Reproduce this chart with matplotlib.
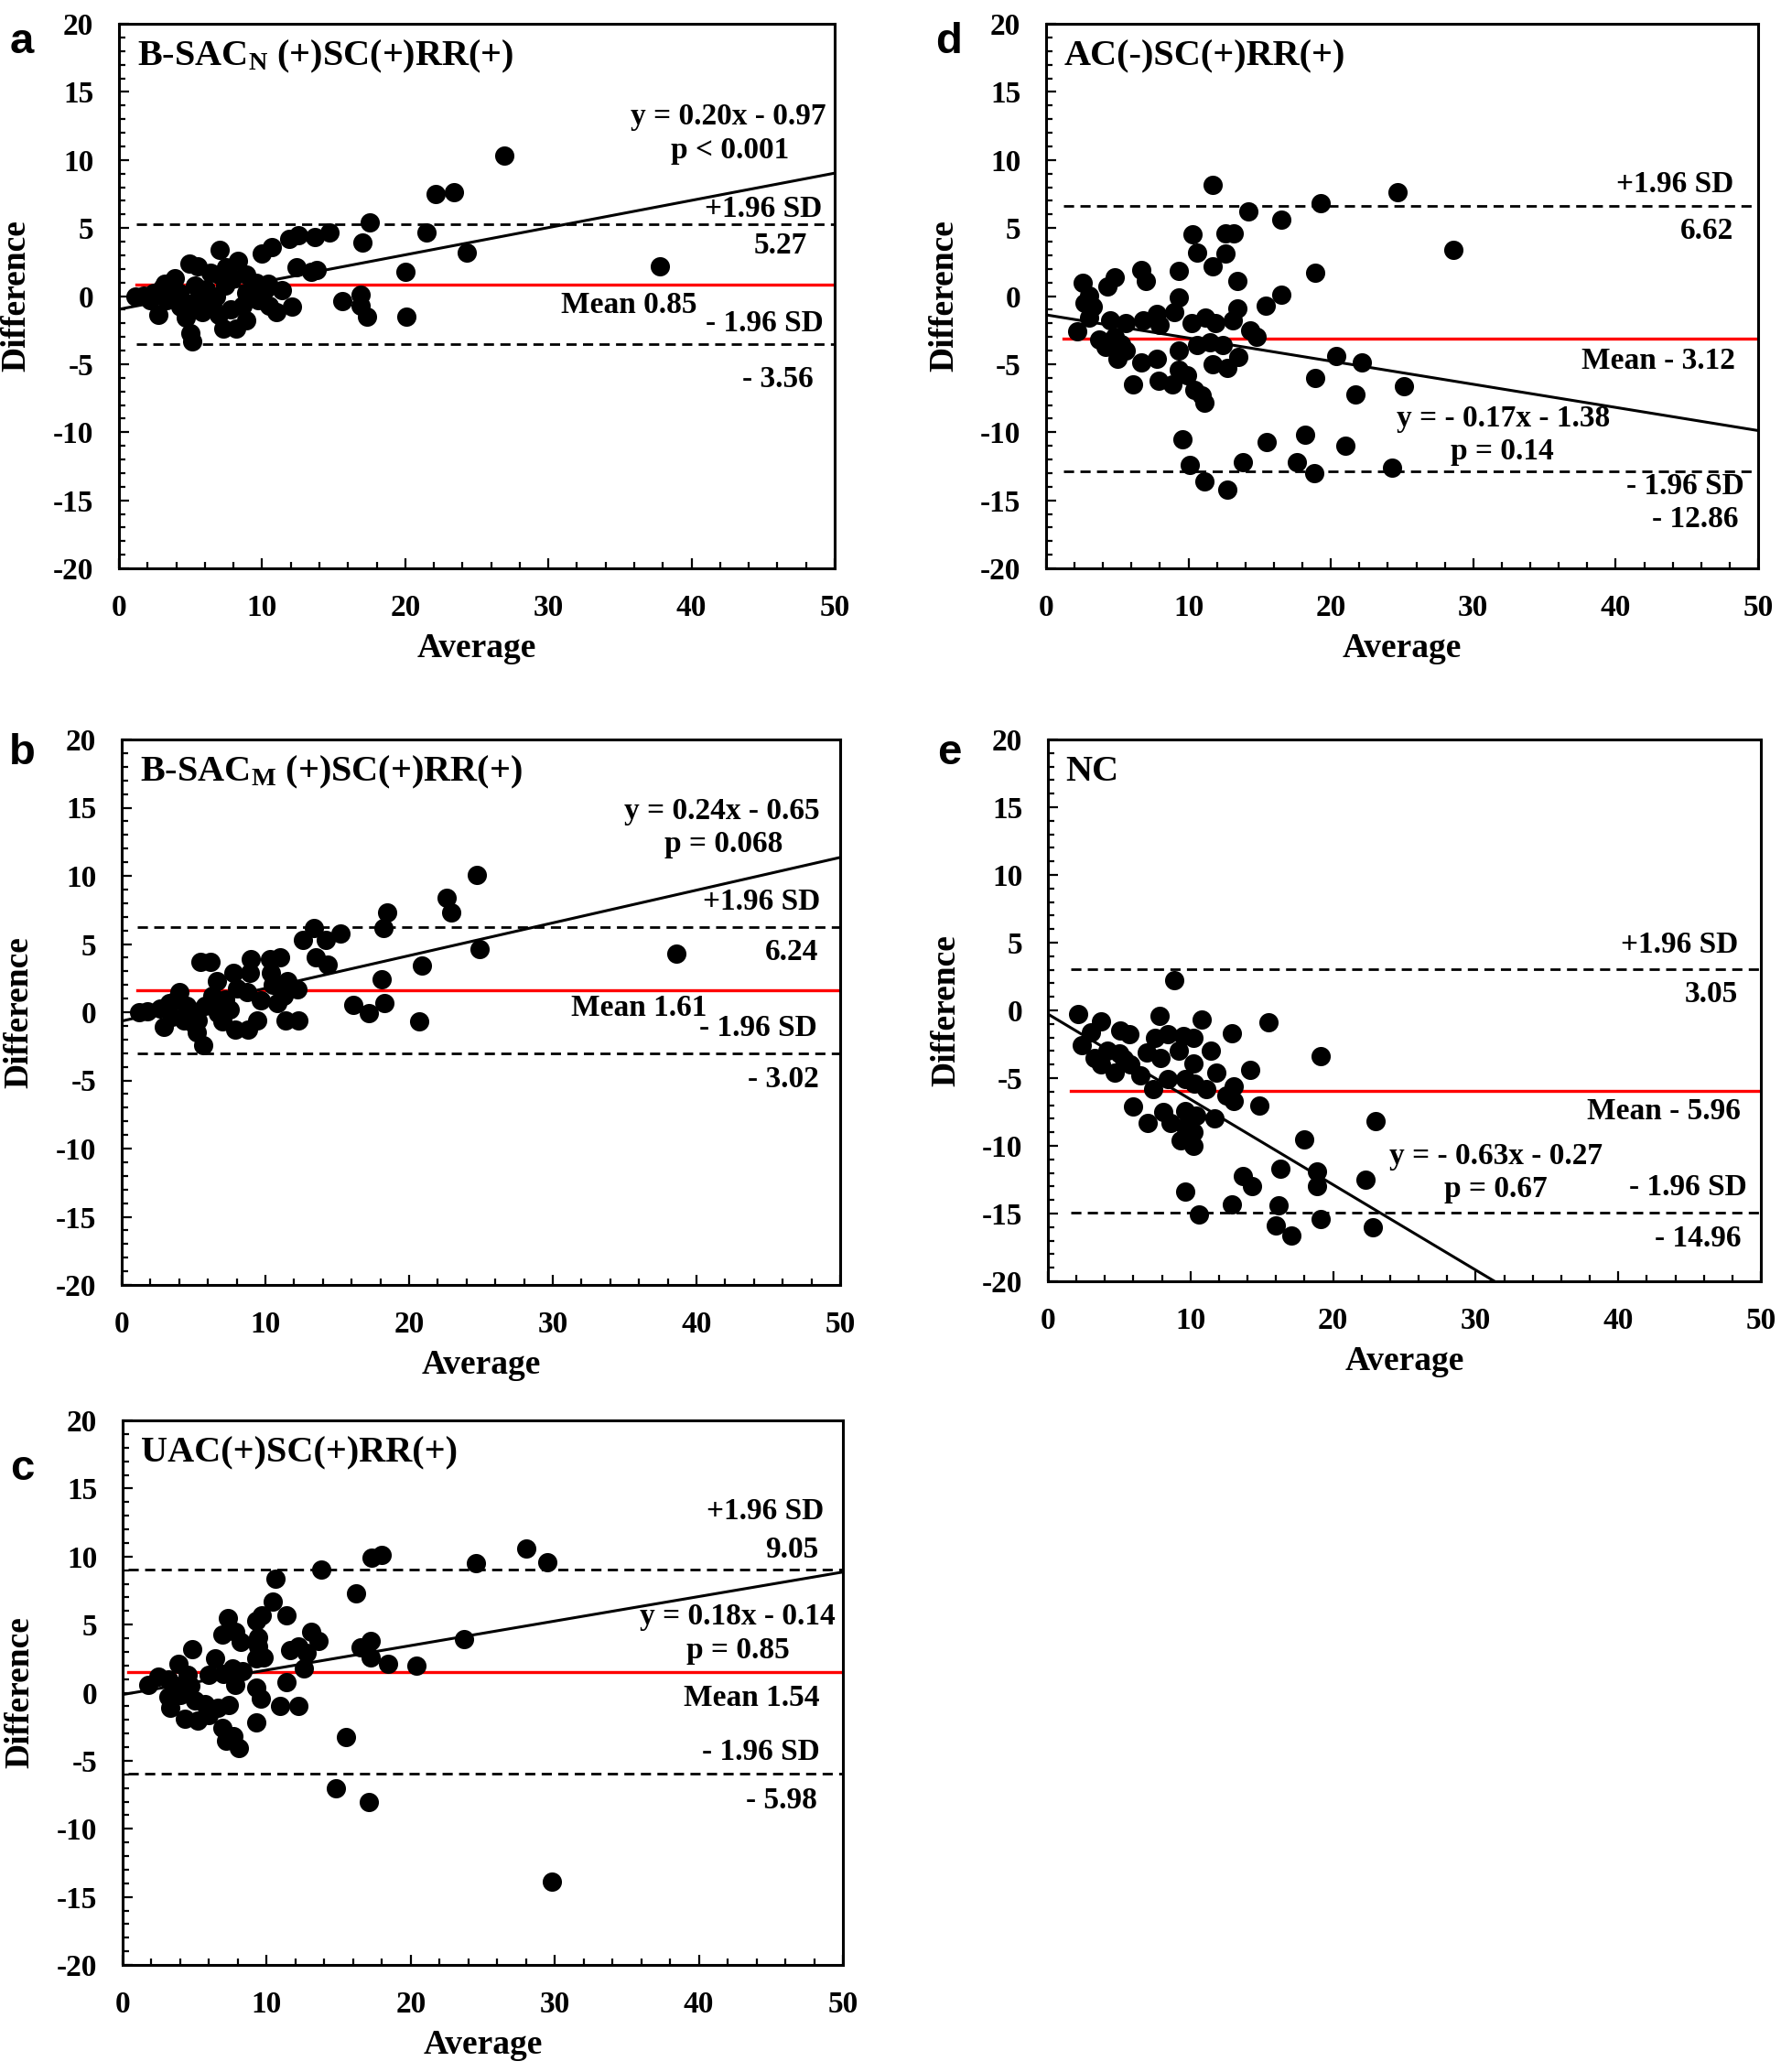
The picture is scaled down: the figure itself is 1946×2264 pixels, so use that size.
import matplotlib
matplotlib.use("Agg")
import matplotlib.pyplot as plt
from matplotlib.ticker import MultipleLocator

plt.rcParams['font.family'] = ['Liberation Serif', 'DejaVu Serif']
plt.rcParams['font.weight'] = 'bold'
plt.rcParams['mathtext.default'] = 'regular'
plt.rcParams['axes.unicode_minus'] = False

# ---------------- DATA ----------------
# panel a : B-SAC_N (+)SC(+)RR(+)
a_avg = [26.9, 22.1, 23.4, 17.5, 17.0, 21.5, 24.3, 37.8, 20.0, 20.1, 15.6, 16.9, 16.9, 17.3,
         14.7, 13.7, 12.5, 11.9, 10.7, 10.0, 7.05, 12.4, 13.4, 13.8, 12.1, 11.0, 4.9, 5.5,
         6.4, 7.5, 8.3, 8.9, 9.6, 10.2, 11.4, 10.4, 3.9, 3.2, 2.4, 1.15, 1.7, 2.75, 4.65,
         5.0, 5.1, 7.3, 8.2, 8.9, 8.6, 7.8, 6.95, 6.5, 5.6, 4.3, 3.3, 5.3, 6.1, 7.4, 8.9,
         9.7, 10.5, 6.95, 7.9, 4.2, 5.1, 5.8, 6.8, 2.2, 3.7, 3.0]
a_diff = [10.3, 7.5, 7.6, 5.4, 3.95, 4.7, 3.2, 2.2, 1.8, -1.5, -0.4, 0.1, -0.7, -1.5,
          4.7, 4.35, 4.5, 4.2, 3.6, 3.1, 3.4, 2.1, 1.8, 1.9, -0.75, -1.2, 2.4, 2.2,
          1.7, 2.1, 2.6, 1.6, 1.0, 0.5, 0.45, 0.9, 1.3, 0.9, 0.24, -0.03, 0.03, -1.4, -1.6,
          -2.7, -3.3, -2.4, -2.4, -1.8, -0.7, -1.0, -1.35, -0.6, 0.0, -0.8, -0.3, 0.8, 0.5, 0.8, 0.24,
          -0.3, -0.7, 1.6, 1.3, 0.24, -0.56, -1.2, 0.0, -0.3, 0.0, 0.6]

# panel b : B-SAC_M (+)SC(+)RR(+)
b_avg = [24.7, 22.6, 22.9, 18.5, 18.2, 13.4, 15.2, 14.2, 12.6, 24.9, 38.6, 13.5, 14.3, 20.9,
         5.5, 6.2, 9.0, 10.3, 11.0, 7.8, 8.9, 10.4, 18.1, 6.6, 11.5, 12.2, 4.0, 8.0, 16.1,
         17.2, 18.3, 20.7, 12.3, 11.4, 9.4, 8.8, 7.9, 7.0, 2.9, 5.2, 5.7, 1.2, 1.8, 2.7,
         3.3, 3.8, 4.5, 4.8, 5.3, 5.8, 6.3, 7.2, 7.5, 8.7, 9.7, 10.8, 10.5, 11.3, 3.5,
         4.3, 6.7, 5.0]
b_diff = [10.1, 8.4, 7.3, 7.3, 6.2, 6.2, 5.8, 5.3, 5.3, 4.6, 4.3, 4.0, 3.5, 3.4,
          3.7, 3.7, 3.9, 3.9, 4.0, 2.9, 2.9, 2.9, 2.4, 2.3, 2.3, 1.7, 1.5, 1.76, 0.52,
          -0.08, 0.66, -0.68, -0.6, -0.6, -0.6, -1.26, -1.26, -0.7, -1.05, -1.5, -2.4, 0.0, 0.05, 0.3,
          0.7, 0.97, 0.45, -0.08, -0.6, 0.45, 1.2, 0.97, 0.18, 1.5, 0.84, 0.7, 2.0, 1.2, -0.34,
          -0.6, -0.08, -0.87]

# panel c : UAC(+)SC(+)RR(+)
c_avg = [28.0, 29.5, 24.5, 18.0, 17.3, 13.8, 10.6, 16.2, 10.4, 9.65, 9.25, 11.4, 7.3, 6.9,
         7.8, 8.2, 9.4, 9.4, 13.1, 13.6, 11.6, 12.2, 12.8, 16.5, 17.2, 17.2, 23.7, 18.4,
         20.4, 4.8, 3.9, 6.4, 7.65, 9.3, 9.8, 12.6, 6.0, 7.0, 8.3, 1.8, 2.5, 3.2, 3.7,
         4.5, 4.7, 7.8, 11.4, 9.3, 9.6, 3.2, 3.3, 4.0, 5.0, 5.7, 4.3, 5.2, 6.0, 6.6,
         7.4, 10.9, 12.2, 9.3, 6.9, 7.2, 7.7, 8.05, 15.5, 14.8, 17.1, 29.8]
c_diff = [10.6, 9.55, 9.5, 10.1, 9.9, 9.07, 8.4, 7.3, 6.7, 5.7, 5.3, 5.7, 5.5, 4.3,
          4.5, 3.7, 4.1, 3.4, 4.5, 3.8, 3.1, 3.4, 2.9, 3.3, 3.8, 2.6, 3.9, 2.1,
          2.0, 3.2, 2.1, 2.5, 1.8, 2.5, 2.6, 1.8, 1.3, 1.4, 1.55, 0.6, 1.15, 1.0, 0.48,
          1.3, 0.48, 0.6, 0.8, 0.35, -0.45, -0.3, -1.1, -0.2, -0.6, -0.85, -1.9, -2.05, -1.65, -1.1,
          -0.9, -1.0, -1.0, -2.2, -2.6, -3.5, -3.2, -4.1, -3.25, -7.0, -8.0, -13.9]

# panel d : AC(-)SC(+)RR(+)
d_avg = [11.7, 24.7, 19.3, 14.2, 16.5, 28.6, 10.3, 12.6, 13.2, 10.6, 12.6, 11.7, 9.3, 6.7,
         7.0, 4.3, 4.8, 2.6, 3.0, 3.3, 13.4, 18.9, 16.5, 15.4, 9.3, 9.0, 7.8, 13.4, 13.1,
         11.2, 10.2, 11.9, 14.3, 14.8, 2.2, 4.5, 5.6, 6.8, 8.0, 3.7, 4.2, 5.0, 5.6, 6.1,
         6.7, 7.8, 7.9, 8.9, 9.3, 9.3, 9.9, 10.4, 10.9, 11.1, 10.6, 11.5, 12.4, 11.7, 12.7,
         13.5, 20.4, 22.2, 18.9, 21.7, 25.1, 9.6, 15.5, 18.2, 21.0, 10.1, 13.8, 17.6, 18.8,
         24.3, 11.1, 12.7, 4.8, 5.3, 2.7, 3.0]
d_diff = [8.16, 7.6, 6.8, 6.24, 5.6, 3.4, 4.56, 4.6, 4.6, 3.2, 3.1, 2.2, 1.84, 1.9,
          1.1, 0.7, 1.4, 0.96, 0.03, -0.77, 1.1, 1.7, 0.08, -0.7, -0.1, -1.2, -1.3, -0.9, -1.8,
          -1.6, -2.0, -2.0, -2.5, -3.0, -2.6, -1.8, -2.0, -1.8, -2.1, -3.2, -3.7, -4.6, -4.0, -6.5,
          -4.9, -4.6, -6.2, -6.5, -4.0, -5.4, -5.8, -6.9, -7.3, -7.8, -3.6, -3.4, -3.6, -5.0, -5.3,
          -4.5, -4.4, -4.9, -6.0, -7.2, -6.6, -10.5, -10.7, -10.2, -11.0, -12.4, -12.2, -12.2, -13.0,
          -12.6, -13.6, -14.2, -2.96, -3.5, -0.5, -1.6]

# panel e : NC
e_avg = [8.85, 2.1, 3.7, 7.8, 10.8, 15.5, 12.9, 5.1, 5.7, 7.5, 8.4, 9.5, 10.2, 11.4,
         19.1, 2.4, 3.0, 4.2, 5.0, 6.9, 7.9, 9.2, 10.2, 11.8, 14.2, 3.7, 4.7, 5.8, 6.5,
         7.4, 8.4, 9.6, 10.3, 11.1, 13.0, 12.5, 13.0, 14.8, 6.0, 7.0, 8.1, 8.6, 9.6, 10.4,
         11.7, 9.6, 10.2, 9.3, 10.2, 23.0, 18.0, 16.3, 18.9, 18.9, 22.3, 13.7, 14.3, 9.6,
         12.9, 16.2, 10.6, 19.1, 16.0, 17.1, 22.8, 3.3, 5.3]
e_diff = [2.24, -0.3, -0.8, -0.43, -0.7, -0.9, -1.7, -1.5, -1.76, -2.0, -1.76, -1.9, -2.0, -2.96,
          -3.4, -2.56, -1.6, -2.96, -3.2, -3.1, -3.5, -2.96, -3.9, -4.6, -4.4, -4.0, -4.6, -4.0, -4.8,
          -5.8, -5.1, -5.1, -5.4, -5.8, -5.6, -6.3, -6.7, -7.0, -7.1, -8.3, -7.5, -8.3, -7.4, -7.8,
          -8.0, -8.6, -9.0, -9.6, -10.0, -8.2, -9.5, -11.7, -11.9, -13.0, -12.5, -12.2, -13.0, -13.4,
          -14.3, -14.4, -15.1, -15.4, -15.9, -16.6, -16.0, -3.5, -3.6]

# reported statistics: mean, upper LoA, lower LoA, slope, intercept
panel_names = ['a', 'b', 'c', 'd', 'e']
titles = [r'B-SAC$_\mathregular{N}$ (+)SC(+)RR(+)', r'B-SAC$_\mathregular{M}$ (+)SC(+)RR(+)',
          'UAC(+)SC(+)RR(+)', 'AC(-)SC(+)RR(+)', 'NC']
means = [0.85, 1.61, 1.54, -3.12, -5.96]
upper = [5.27, 6.24, 9.05, 6.62, 3.05]
lower = [-3.56, -3.02, -5.98, -12.86, -14.96]
slopes = [0.20, 0.24, 0.18, -0.17, -0.63]
intercepts = [-0.97, -0.65, -0.14, -1.38, -0.27]
eq_labels = ['y = 0.20x - 0.97', 'y = 0.24x - 0.65', 'y = 0.18x - 0.14',
             'y = - 0.17x - 1.38', 'y = - 0.63x - 0.27']
p_labels = ['p < 0.001', 'p = 0.068', 'p = 0.85', 'p = 0.14', 'p = 0.67']
mean_labels = ['Mean 0.85', 'Mean 1.61', 'Mean 1.54', 'Mean - 3.12', 'Mean - 5.96']
upper_labels = ['5.27', '6.24', '9.05', '6.62', '3.05']
lower_labels = ['- 3.56', '- 3.02', '- 5.98', '- 12.86', '- 14.96']
line_start = [1.2, 1.1, 0.4, 1.2, 1.6]

avgs = [a_avg, b_avg, c_avg, d_avg, e_avg]
diffs = [a_diff, b_diff, c_diff, d_diff, e_diff]

# ---------------- LAYOUT ----------------
W, H = 1946, 2264
boxes = {  # left, top, right, bottom in pixels
    'a': (130, 26, 912, 621),
    'b': (133, 808, 918, 1404),
    'c': (134, 1552, 921, 2147),
    'd': (1143, 26, 1921, 621),
    'e': (1145, 808, 1924, 1400),
}
letter_pos = {'a': (24, 46), 'b': (24, 823), 'c': (24, 1605), 'd': (1037, 46), 'e': (1037, 823)}

# text anchors (x, y in data units) for each panel:
# eq, p, +SD, upper value, mean, -SD, lower value
txt = {
    'a': dict(eq=(49.4, 13.2, 'right'), p=(46.8, 10.7, 'right'), sdu=(49.1, 6.4), vu=(48.1, 3.7),
              mean=(40.4, -0.7), sdl=(49.2, -2.0), vl=(48.5, -6.1)),
    'b': dict(eq=(48.6, 14.7, 'right'), p=(46.0, 12.3, 'right'), sdu=(48.6, 8.1), vu=(48.5, 4.4),
              mean=(40.7, 0.3), sdl=(48.4, -1.2), vl=(48.5, -4.9)),
    'c': dict(eq=(49.5, 5.6, 'right'), p=(46.3, 3.1, 'right'), sdu=(48.7, 13.3), vu=(48.3, 10.5),
              mean=(48.4, -0.4), sdl=(48.4, -4.4), vl=(48.2, -7.9)),
    'd': dict(eq=(32.1, -9.0, 'center'), p=(32.0, -11.45, 'center'), sdu=(48.3, 8.2), vu=(48.3, 4.75),
              mean=(48.4, -4.75), sdl=(49.0, -14.0), vl=(48.6, -16.4)),
    'e': dict(eq=(31.4, -10.8, 'center'), p=(31.4, -13.2, 'center'), sdu=(48.4, 4.85), vu=(48.4, 1.2),
              mean=(48.6, -7.5), sdl=(49.0, -13.1), vl=(48.6, -16.85)),
}

fig = plt.figure(figsize=(W / 100, H / 100), dpi=100)
fs = 24

for i, name in enumerate(panel_names):
    l, t, r, b = boxes[name]
    ax = fig.add_axes([l / W, 1 - b / H, (r - l) / W, (b - t) / H])

    ax.scatter(avgs[i], diffs[i], s=230, color='black', zorder=3, linewidths=0)

    xs = [0, 50]
    ax.plot(xs, [slopes[i] * x + intercepts[i] for x in xs], color='black', lw=2.2, zorder=4)
    ax.plot([line_start[i], 50], [means[i], means[i]], color='red', lw=2.4, zorder=2)
    for v in (upper[i], lower[i]):
        ax.plot([line_start[i], 50], [v, v], color='black', lw=2.0, ls=(0, (4, 2.5)), zorder=2)

    ax.set_xlim(0, 50)
    ax.set_ylim(-20, 20)
    ax.xaxis.set_major_locator(MultipleLocator(10))
    ax.xaxis.set_minor_locator(MultipleLocator(2))
    ax.yaxis.set_major_locator(MultipleLocator(5))
    ax.yaxis.set_minor_locator(MultipleLocator(1))
    ax.tick_params(which='both', direction='in', width=1.6, labelsize=fs)
    ax.tick_params(which='major', length=8)
    ax.tick_params(which='minor', length=5)
    ax.tick_params(axis='x', which='major', pad=20)
    ax.tick_params(axis='y', which='major', pad=20)
    for sp in ax.spines.values():
        sp.set_linewidth(2.2)
    ax.set_xlabel('Average', fontsize=27, fontweight='bold', va='center')
    ax.set_ylabel('Difference', fontsize=27, fontweight='bold', va='center')
    ax.xaxis.set_label_coords(0.5, -0.147)
    ax.yaxis.set_label_coords(-0.143, 0.5)

    ax.text(0.025, 0.94, titles[i], transform=ax.transAxes, fontsize=29, fontweight='bold',
            va='center', ha='left')

    p = txt[name]
    ax.text(p['eq'][0], p['eq'][1], eq_labels[i], fontsize=fs, ha=p['eq'][2], va='center')
    ax.text(p['p'][0], p['p'][1], p_labels[i], fontsize=fs, ha=p['p'][2], va='center')
    ax.text(p['sdu'][0], p['sdu'][1], '+1.96 SD', fontsize=fs, ha='right', va='center')
    ax.text(p['vu'][0], p['vu'][1], upper_labels[i], fontsize=fs, ha='right', va='center')
    ax.text(p['mean'][0], p['mean'][1], mean_labels[i], fontsize=fs, ha='right', va='center')
    ax.text(p['sdl'][0], p['sdl'][1], '- 1.96 SD', fontsize=fs, ha='right', va='center')
    ax.text(p['vl'][0], p['vl'][1], lower_labels[i], fontsize=fs, ha='right', va='center')

    lx, ly = letter_pos[name]
    fig.text(lx / W, 1 - ly / H, name, fontsize=34, fontweight='bold',
             family=['Liberation Sans', 'DejaVu Sans'], ha='center', va='center')

fig.savefig('out.png', dpi=100, facecolor='white')
